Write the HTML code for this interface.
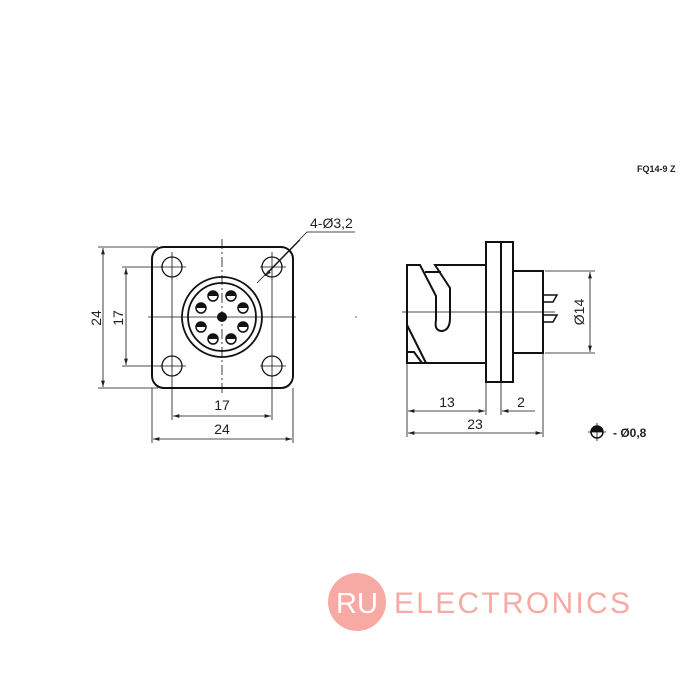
<!DOCTYPE html>
<html><head><meta charset="utf-8"><style>
html,body{margin:0;padding:0;background:#fff}
svg{display:block}
text{font-family:"Liberation Sans",sans-serif;fill:#222}
</style></head><body>
<svg width="700" height="700" viewBox="0 0 700 700" xmlns="http://www.w3.org/2000/svg">
<defs>
<marker id="a" viewBox="0 0 10 6" refX="10" refY="3" markerWidth="8" markerHeight="5" orient="auto-start-reverse"><path d="M0,0L10,3L0,6z" fill="#222"/></marker>
<g id="p"><circle r="5" fill="none" stroke="#111" stroke-width="1.5"/><path d="M-5,0 A5,5 0 0 1 5,0 Z" fill="#111"/></g>
</defs>
<g fill="none" stroke="#111">
<rect x="152" y="247" width="141" height="141" rx="12" stroke-width="2"/>
<g stroke-width="1.3">
<circle cx="172" cy="267" r="10"/><circle cx="272" cy="267" r="10"/>
<circle cx="172" cy="366" r="10"/><circle cx="272" cy="366" r="10"/>
</g>
<circle cx="222" cy="317" r="40" stroke-width="1.8"/>
<circle cx="222" cy="317" r="34" stroke-width="1.8"/>
<circle cx="222" cy="317" r="4.5" fill="#111"/>
<g stroke-width="0.8">
<line x1="148" y1="317" x2="296" y2="317"/>
<line x1="222" y1="239" x2="222" y2="395" stroke-dasharray="10,3,2,3"/>
<line x1="160" y1="267" x2="186" y2="267"/><line x1="260" y1="267" x2="286" y2="267"/>
<line x1="160" y1="366" x2="186" y2="366"/><line x1="260" y1="366" x2="286" y2="366"/>
<line x1="172" y1="252" x2="172" y2="420"/><line x1="272" y1="252" x2="272" y2="420"/>
<line x1="98" y1="247" x2="158" y2="247"/><line x1="98" y1="388" x2="158" y2="388"/>
<line x1="122" y1="267" x2="162" y2="267"/><line x1="122" y1="366" x2="162" y2="366"/>
<line x1="152" y1="388" x2="152" y2="443"/><line x1="293" y1="388" x2="293" y2="443"/>
<line x1="103" y1="248" x2="103" y2="387" marker-start="url(#a)" marker-end="url(#a)"/>
<line x1="126" y1="268" x2="126" y2="365" marker-start="url(#a)" marker-end="url(#a)"/>
<line x1="173" y1="416" x2="271" y2="416" marker-start="url(#a)" marker-end="url(#a)"/>
<line x1="153" y1="439" x2="292" y2="439" marker-start="url(#a)" marker-end="url(#a)"/>
<polyline points="257,283 307,232 355,232"/>
<line x1="300" y1="240" x2="265" y2="276" marker-end="url(#a)"/>
</g>
<g stroke-width="2">
<rect x="486" y="242" width="27" height="140"/>
<line x1="501" y1="242" x2="501" y2="382"/>
<polyline points="486,265 435,265 450,288 450,318"/>
<path d="M450,318 Q450,330 442,331 Q434,331 436,320 L436,296 L420,265 L407,265 L407,363 L426,363 L486,363"/>
<line x1="425" y1="272" x2="441" y2="272"/>
<line x1="407" y1="325" x2="426" y2="363"/>
<polyline points="407,352 414,352 422,363"/>
<polyline points="513,271 543,271 543,353 513,353"/>
<polyline points="543,295 557,295 553,302 543,302" stroke-width="1.5"/>
<polyline points="543,315 557,315 553,322 543,322" stroke-width="1.5"/>
</g>
<g stroke-width="0.8">
<line x1="402" y1="312" x2="555" y2="312"/>
<line x1="545" y1="271" x2="595" y2="271"/><line x1="545" y1="353" x2="595" y2="353"/>
<line x1="590" y1="272" x2="590" y2="352" marker-start="url(#a)" marker-end="url(#a)"/>
<line x1="407" y1="363" x2="407" y2="437"/><line x1="486" y1="382" x2="486" y2="415"/>
<line x1="501" y1="382" x2="501" y2="415"/><line x1="543" y1="353" x2="543" y2="437"/>
<line x1="408" y1="411" x2="485" y2="411" marker-start="url(#a)" marker-end="url(#a)"/>
<line x1="535" y1="411" x2="502" y2="411" marker-end="url(#a)"/>
<line x1="408" y1="433" x2="542" y2="433" marker-start="url(#a)" marker-end="url(#a)"/>
</g>
<circle cx="597" cy="432" r="6" stroke-width="1.5"/>
<path d="M591,432 A6,6 0 0 1 603,432 Z" fill="#111" stroke="none"/>
<line x1="597" y1="423" x2="597" y2="441" stroke-width="0.8"/>
<line x1="588" y1="432" x2="606" y2="432" stroke-width="0.8"/>
</g>
<use href="#p" x="213" y="296"/><use href="#p" x="231" y="296"/>
<use href="#p" x="243" y="308"/><use href="#p" x="243" y="327"/>
<use href="#p" x="231" y="339"/><use href="#p" x="213" y="339"/>
<use href="#p" x="201" y="327"/><use href="#p" x="201" y="308"/>
<circle cx="356" cy="317" r="0.8" fill="#555"/>
<g font-size="14">
<text x="310" y="228">4-Ø3,2</text>
<text x="222" y="410" text-anchor="middle">17</text>
<text x="222" y="434" text-anchor="middle">24</text>
<text transform="translate(101,318) rotate(-90)" text-anchor="middle">24</text>
<text transform="translate(123,318) rotate(-90)" text-anchor="middle">17</text>
<text transform="translate(584,312) rotate(-90)" text-anchor="middle">Ø14</text>
<text x="447" y="407" text-anchor="middle">13</text>
<text x="521" y="407" text-anchor="middle">2</text>
<text x="475" y="429" text-anchor="middle">23</text>
<text x="613" y="437" font-weight="bold" font-size="12">-  Ø0,8</text>
</g>
<text x="637" y="172" font-size="9" font-weight="bold">FQ14-9 Z</text>
<circle cx="357" cy="602" r="29" fill="#f7aaa4"/>
<text x="357" y="613" text-anchor="middle" font-size="29" style="fill:#fff">RU</text>
<text x="394" y="613" font-size="30" textLength="236" style="fill:#f7aaa4">ELECTRONICS</text>
</svg>
</body></html>
